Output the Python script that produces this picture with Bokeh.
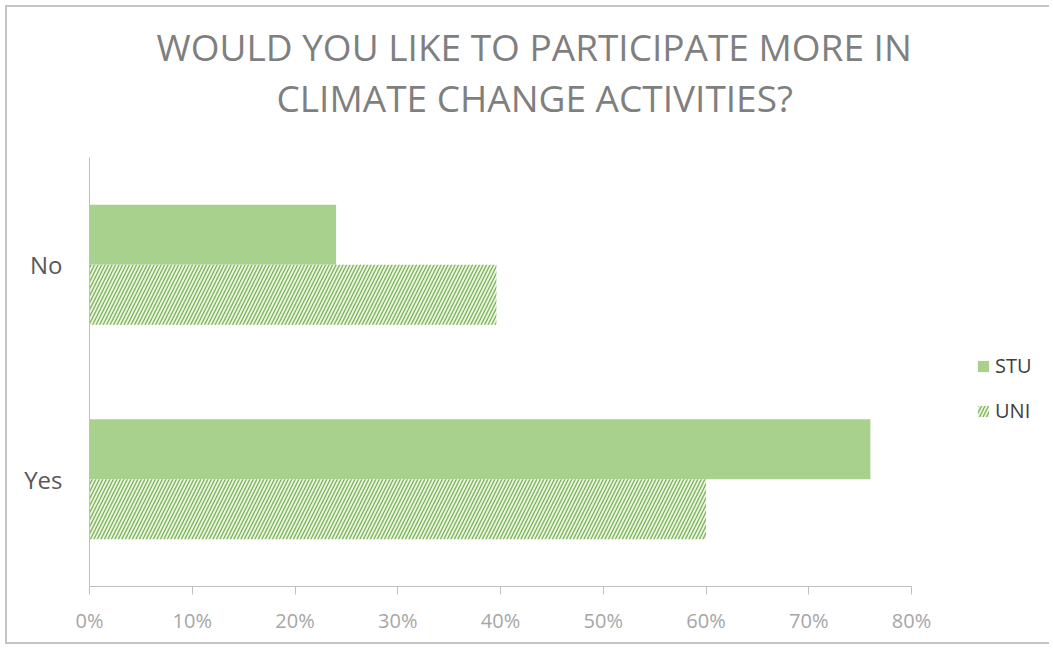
from bokeh.plotting import figure
from bokeh.models import (ColumnDataSource, FactorRange, Range1d, NumeralTickFormatter,
                          Legend, LegendItem, FixedTicker, Title)
from bokeh.transform import dodge
from bokeh.embed import file_html
from bokeh.resources import INLINE

categories = ["Yes", "No"]
stu = [0.76, 0.24]
uni = [0.60, 0.396]
x_ticks = [0, 0.1, 0.2, 0.3, 0.4, 0.5, 0.6, 0.7, 0.8]
title_line1 = "WOULD YOU LIKE TO PARTICIPATE MORE IN"
title_line2 = "CLIMATE CHANGE ACTIVITIES?"

W, H = 1044, 639
LEFT, RIGHT = 82, 4
AXIS_PX = 822  # pixels covered by the 0-80% axis
frame_w = W - LEFT - RIGHT
x_end = x_ticks[-1] * frame_w / AXIS_PX

src = ColumnDataSource(dict(cat=categories, stu=stu, uni=uni))

p = figure(width=W, height=H, y_range=FactorRange(factors=categories),
           x_range=Range1d(0, x_end), output_backend="svg", toolbar_location=None,
           min_border_left=LEFT, min_border_right=RIGHT, min_border_top=150,
           min_border_bottom=60)
p.styles = {"border-left": "2px solid #c4c4c4", "border-top": "2px solid #c4c4c4",
            "border-bottom": "2px solid #c4c4c4",
            "margin-left": "5px", "margin-top": "5px"}
p.outline_line_color = None
p.xgrid.grid_line_color = None
p.ygrid.grid_line_color = None

r1 = p.hbar(y=dodge("cat", 0.14, range=p.y_range), right="stu", left=0, height=0.28,
            source=src, fill_color="#a9d18e", line_color=None)
r2 = p.hbar(y=dodge("cat", -0.14, range=p.y_range), right="uni", left=0, height=0.28,
            source=src, fill_color="#eaf5e3", line_color=None,
            hatch_pattern="/", hatch_color="#70ad47", hatch_scale=7, hatch_weight=1.3,
            hatch_alpha=0.9)

FONT = "Open Sans"
p.xaxis.ticker = FixedTicker(ticks=x_ticks)
p.xaxis.bounds = (x_ticks[0], x_ticks[-1])
p.xaxis.formatter = NumeralTickFormatter(format="0%")
p.xaxis.axis_line_color = "#bfbfbf"
p.xaxis.major_tick_line_color = "#bfbfbf"
p.xaxis.major_tick_out = 8
p.xaxis.major_tick_in = 0
p.xaxis.minor_tick_line_color = None
p.xaxis.major_label_text_color = "#a6a6a6"
p.xaxis.major_label_text_font = FONT
p.xaxis.major_label_text_font_size = "20px"
p.xaxis.major_label_standoff = 12

p.yaxis.axis_line_color = "#bfbfbf"
p.yaxis.major_tick_line_color = None
p.yaxis.major_tick_out = 0
p.yaxis.major_tick_in = 0
p.yaxis.minor_tick_line_color = None
p.yaxis.major_label_text_color = "#595959"
p.yaxis.major_label_text_font = FONT
p.yaxis.major_label_text_font_size = "24px"
p.yaxis.major_label_standoff = 27

legend = Legend(items=[LegendItem(label="STU", renderers=[r1]),
                       LegendItem(label="UNI", renderers=[r2])],
                location=(887, 162), padding=0, margin=0, spacing=18,
                glyph_width=14, glyph_height=14,
                label_text_font=FONT, label_text_font_size="20px",
                label_text_color="#404040", border_line_color=None,
                background_fill_alpha=0)
p.add_layout(legend)

t2 = Title(text=title_line2, align="left", offset=187, text_font=FONT,
           text_font_size="37px", text_color="#7f7f7f", text_font_style="normal",
           standoff=70)
t1 = Title(text=title_line1, align="left", offset=67, text_font=FONT,
           text_font_size="37px", text_color="#7f7f7f", text_font_style="normal",
           standoff=-74)
p.title.text = ""
p.add_layout(t2, "above")
p.add_layout(t1, "above")

open("out.html", "w").write(file_html(p, INLINE))
